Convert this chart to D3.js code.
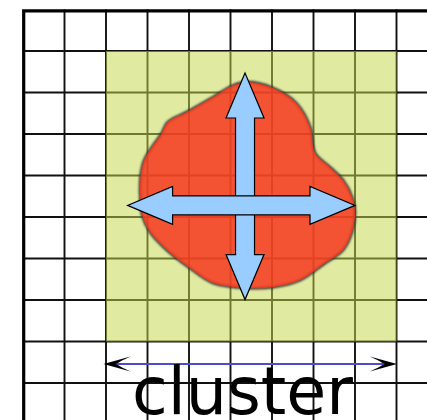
<!DOCTYPE html>
<html>
    <head>
        <meta charset="utf-8">
        <style>
            html, body {
                margin: 0px;
                padding: 0px;
                background-color: #fff;
            }
            svg {
                display: block;
            }
            .grid line {
                stroke: #111;
                stroke-width: 1.9;
            }
            .arrow {
                fill: #99ccff;
                stroke: #000;
                stroke-width: 1.2;
                stroke-linejoin: miter;
            }
            .label {
                font-family: "DejaVu Sans";
                font-size: 65px;
                fill: #000;
            }
        </style>
        <script src="https://cdn.jsdelivr.net/npm/d3@7"></script>
    </head>
    <body>
        <div id="main"></div>

        <script>
            // everything is in grid cell units, mapped through x / y scales
            var gridLines = d3.range(0, 11);
            var clusterCols = [2, 9];
            var clusterRows = [1, 8];

            var blobU = [5.37, 6.02, 6.58, 6.92, 7.04, 7.40, 7.71, 7.93, 8.00, 7.93, 7.71, 7.28, 6.68, 6.02,
                         5.37, 4.58, 4.02, 3.47, 3.06, 2.87, 2.82, 2.84, 2.92, 3.11, 3.33, 3.49, 3.95, 4.58, 5.04];
            var blobV = [1.75, 1.89, 2.25, 2.83, 3.46, 3.80, 4.11, 4.52, 4.88, 5.36, 5.80, 6.11, 6.52, 6.69,
                         6.71, 6.59, 6.23, 5.80, 5.36, 4.95, 4.35, 3.96, 3.63, 3.31, 3.00, 2.71, 2.47, 2.11, 1.84];

            var armCenter = [5.35, 4.72];
            var armU = [2.52, 8.00];
            var armV = [1.53, 6.99];

            var dimU = [1.94, 9.01];
            var dimV = 8.54;
            var labelText = "cluster";
            var labelPos = [5.29, 9.75];

            var width = 427;
            var height = 420;
            var headLen = 45;
            var headHalf = 19;
            var shaftHalf = 9.5;

            var x = d3.scaleLinear().domain([0, 10]).range([23, 438]);
            var y = d3.scaleLinear().domain([0, 10]).range([9.5, 424.5]);

            function doubleArrow(x1, y1, x2, y2) {
                var len = Math.hypot(x2 - x1, y2 - y1);
                var ux = (x2 - x1) / len, uy = (y2 - y1) / len;
                var px = -uy, py = ux;
                function pt(t, s) { return [x1 + ux * t + px * s, y1 + uy * t + py * s]; }
                return [
                    pt(0, 0),
                    pt(headLen, headHalf), pt(headLen, shaftHalf),
                    pt(len - headLen, shaftHalf), pt(len - headLen, headHalf),
                    pt(len, 0),
                    pt(len - headLen, -headHalf), pt(len - headLen, -shaftHalf),
                    pt(headLen, -shaftHalf), pt(headLen, -headHalf)
                ];
            }

            function main() {
                var svg = d3.select("#main")
                    .append("svg")
                    .attr("width", width)
                    .attr("height", height);

                var defs = svg.append("defs");
                defs.append("filter")
                    .attr("id", "soft")
                    .attr("x", "-10%").attr("y", "-10%")
                    .attr("width", "120%").attr("height", "120%")
                    .append("feGaussianBlur")
                    .attr("stdDeviation", 0.9);

                var grid = svg.append("g").attr("class", "grid");
                grid.selectAll(".v")
                    .data(gridLines.slice(1))
                    .enter()
                    .append("line")
                    .attr("x1", function(d) { return x(d); })
                    .attr("x2", function(d) { return x(d); })
                    .attr("y1", y(0))
                    .attr("y2", height);
                grid.selectAll(".h")
                    .data(gridLines.slice(1))
                    .enter()
                    .append("line")
                    .attr("y1", function(d) { return y(d); })
                    .attr("y2", function(d) { return y(d); })
                    .attr("x1", x(0))
                    .attr("x2", width);

                svg.append("path")
                    .attr("d", "M" + (x(0) + 0.7) + "," + height + "V" + (y(0) + 1.3) + "H" + width)
                    .attr("fill", "none")
                    .attr("stroke", "#000")
                    .attr("stroke-width", 3.2);

                svg.append("rect")
                    .attr("x", x(clusterCols[0]))
                    .attr("y", y(clusterRows[0]))
                    .attr("width", x(clusterCols[1]) - x(clusterCols[0]))
                    .attr("height", y(clusterRows[1]) - y(clusterRows[0]))
                    .attr("fill", "rgb(196,216,75)")
                    .attr("fill-opacity", 0.52);

                var blobPts = blobU.map(function(u, i) { return [x(u), y(blobV[i])]; });
                var blobLine = d3.line().curve(d3.curveCatmullRomClosed.alpha(0.5));

                svg.append("path")
                    .attr("d", blobLine(blobPts))
                    .attr("fill", "none")
                    .attr("stroke", "#333")
                    .attr("stroke-width", 2.6)
                    .attr("filter", "url(#soft)");
                svg.append("path")
                    .attr("d", blobLine(blobPts))
                    .attr("fill", "rgb(246,56,32)")
                    .attr("fill-opacity", 0.85);

                var cx = x(armCenter[0]), cy = y(armCenter[1]);
                svg.append("polygon")
                    .attr("class", "arrow")
                    .attr("points", doubleArrow(cx, y(armV[0]), cx, y(armV[1])).join(" "));
                svg.append("polygon")
                    .attr("class", "arrow")
                    .attr("points", doubleArrow(x(armU[0]), cy, x(armU[1]), cy).join(" "));

                var dy = y(dimV);
                svg.append("line")
                    .attr("x1", x(dimU[0]) + 10)
                    .attr("x2", x(dimU[1]) - 10)
                    .attr("y1", dy)
                    .attr("y2", dy)
                    .attr("stroke", "#4b4bd6")
                    .attr("stroke-width", 2);

                var head = "M0,0 L27,-7.5 C18,-3.5 15,-1.2 12,0 C15,1.2 18,3.5 27,7.5 Z";
                svg.append("path")
                    .attr("d", head)
                    .attr("transform", "translate(" + x(dimU[0]) + "," + dy + ")")
                    .attr("fill", "#000");
                svg.append("path")
                    .attr("d", head)
                    .attr("transform", "translate(" + x(dimU[1]) + "," + dy + ") scale(-1,1)")
                    .attr("fill", "#000");

                svg.append("text")
                    .attr("class", "label")
                    .attr("x", x(labelPos[0]))
                    .attr("y", y(labelPos[1]))
                    .attr("text-anchor", "middle")
                    .text(labelText);
            }

            main();
        </script>
    </body>
</html>
